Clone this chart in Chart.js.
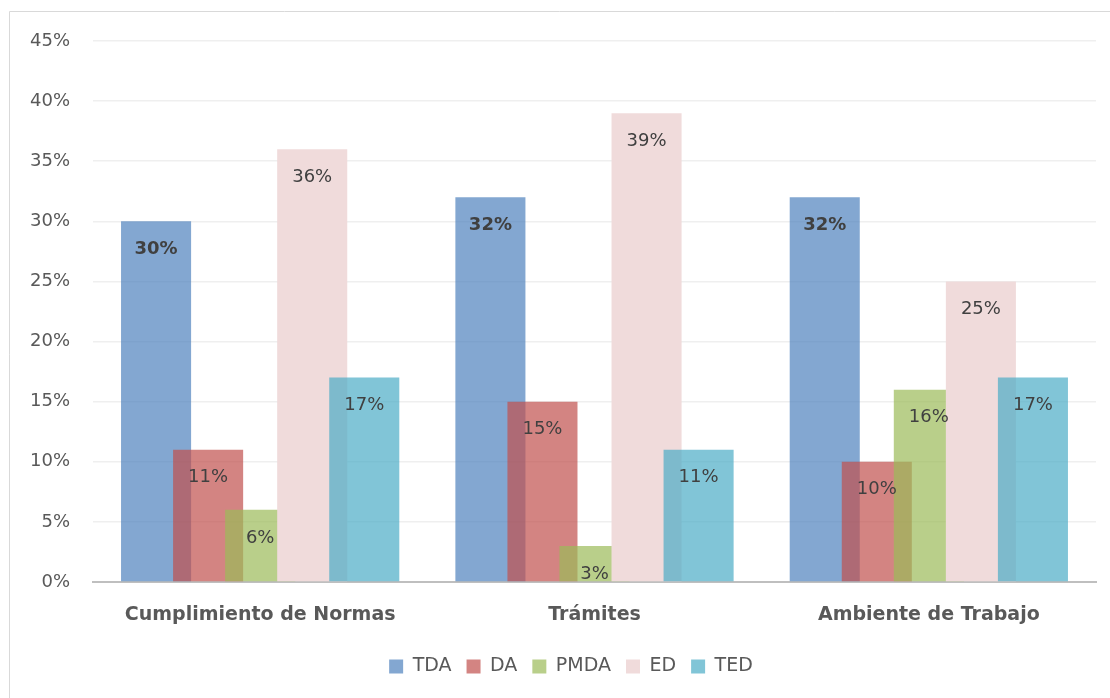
<!DOCTYPE html>
<html>
<head>
<meta charset="utf-8">
<script src="https://cdn.jsdelivr.net/npm/chart.js@4/dist/chart.umd.min.js"></script>
<style>
html,body{margin:0;padding:0;background:#fff;}
#wrap{position:relative;width:1110px;height:698px;}
</style>
</head>
<body>
<div id="wrap"><canvas id="c" width="1110" height="698"></canvas></div>
<script>
const categories = ["Cumplimiento de Normas", "Trámites", "Ambiente de Trabajo"];
const seriesNames = ["TDA", "DA", "PMDA", "ED", "TED"];
const TDA = [30, 32, 32];
const DA = [11, 15, 10];
const PMDA = [6, 3, 16];
const ED = [36, 39, 25];
const TED = [17, 11, 17];
const yTicks = [0, 5, 10, 15, 20, 25, 30, 35, 40, 45];

const seriesValues = [TDA, DA, PMDA, ED, TED];
const colors = [
  "rgba(79,129,189,0.7)",
  "rgba(192,80,77,0.7)",
  "rgba(155,187,89,0.7)",
  "rgb(240,219,219)",
  "rgba(75,172,198,0.7)"
];
const FONT = "'DejaVu Sans', sans-serif";

// draw datasets in forward order so later series overlap earlier ones
const forwardDraw = {
  id: 'forwardDraw',
  beforeDatasetsDraw(chart) {
    const ctx = chart.ctx, a = chart.chartArea;
    const metas = chart.getSortedVisibleDatasetMetas();
    ctx.save();
    ctx.beginPath();
    ctx.rect(a.left, a.top - 1, a.right - a.left, a.bottom - a.top + 1);
    ctx.clip();
    metas.forEach(m => m.controller.draw());
    ctx.restore();
    ctx.save();
    ctx.textAlign = 'center';
    ctx.textBaseline = 'middle';
    ctx.fillStyle = '#404040';
    metas.forEach(m => {
      const di = m.index;
      m.data.forEach((bar, i) => {
        const v = chart.data.datasets[di].data[i];
        ctx.font = (di === 0 ? 'bold ' : '') + '18px ' + FONT;
        ctx.fillText(v + '%', bar.x, bar.y + 28);
      });
    });
    ctx.restore();
    return false;
  }
};

const frame = {
  id: 'frame',
  afterDraw(chart) {
    const ctx = chart.ctx;
    ctx.save();
    ctx.strokeStyle = '#d9d9d9';
    ctx.lineWidth = 1;
    ctx.beginPath();
    ctx.moveTo(9.5, 698);
    ctx.lineTo(9.5, 11.5);
    ctx.lineTo(1110, 11.5);
    ctx.stroke();
    ctx.restore();
  }
};

new Chart(document.getElementById('c'), {
  type: 'bar',
  data: {
    labels: categories,
    datasets: seriesNames.map((n, i) => ({
      label: n,
      data: seriesValues[i],
      backgroundColor: colors[i],
      borderWidth: 0,
      categoryPercentage: 0.7784,
      barPercentage: 1.346
    }))
  },
  options: {
    responsive: false,
    animation: false,
    layout: { padding: { top: 41, right: 14, left: 46, bottom: 12 } },
    plugins: {
      legend: {
        position: 'bottom',
        labels: {
          boxWidth: 14, boxHeight: 14, padding: 15,
          color: '#595959',
          font: { family: FONT, size: 19 }
        }
      },
      tooltip: { enabled: false }
    },
    scales: {
      x: {
        grid: { display: false, drawTicks: false },
        border: { color: '#bfbfbf', width: 2 },
        ticks: { color: '#595959', font: { family: FONT, size: 19, weight: 'bold' }, padding: 22 },
        afterFit(s) { s.height = 60; }
      },
      y: {
        min: 0, max: 45,
        afterBuildTicks(s) { s.ticks = yTicks.map(v => ({ value: v })); },
        grid: { color: '#efefef', lineWidth: 1.5, drawTicks: false },
        border: { display: false },
        ticks: {
          color: '#595959',
          font: { family: FONT, size: 18 },
          mirror: true,
          crossAlign: 'far',
          padding: -63,
          callback: v => v + '%'
        },
        afterFit(s) { s.width = 47; }
      }
    }
  },
  plugins: [forwardDraw, frame]
});
</script>
</body>
</html>
